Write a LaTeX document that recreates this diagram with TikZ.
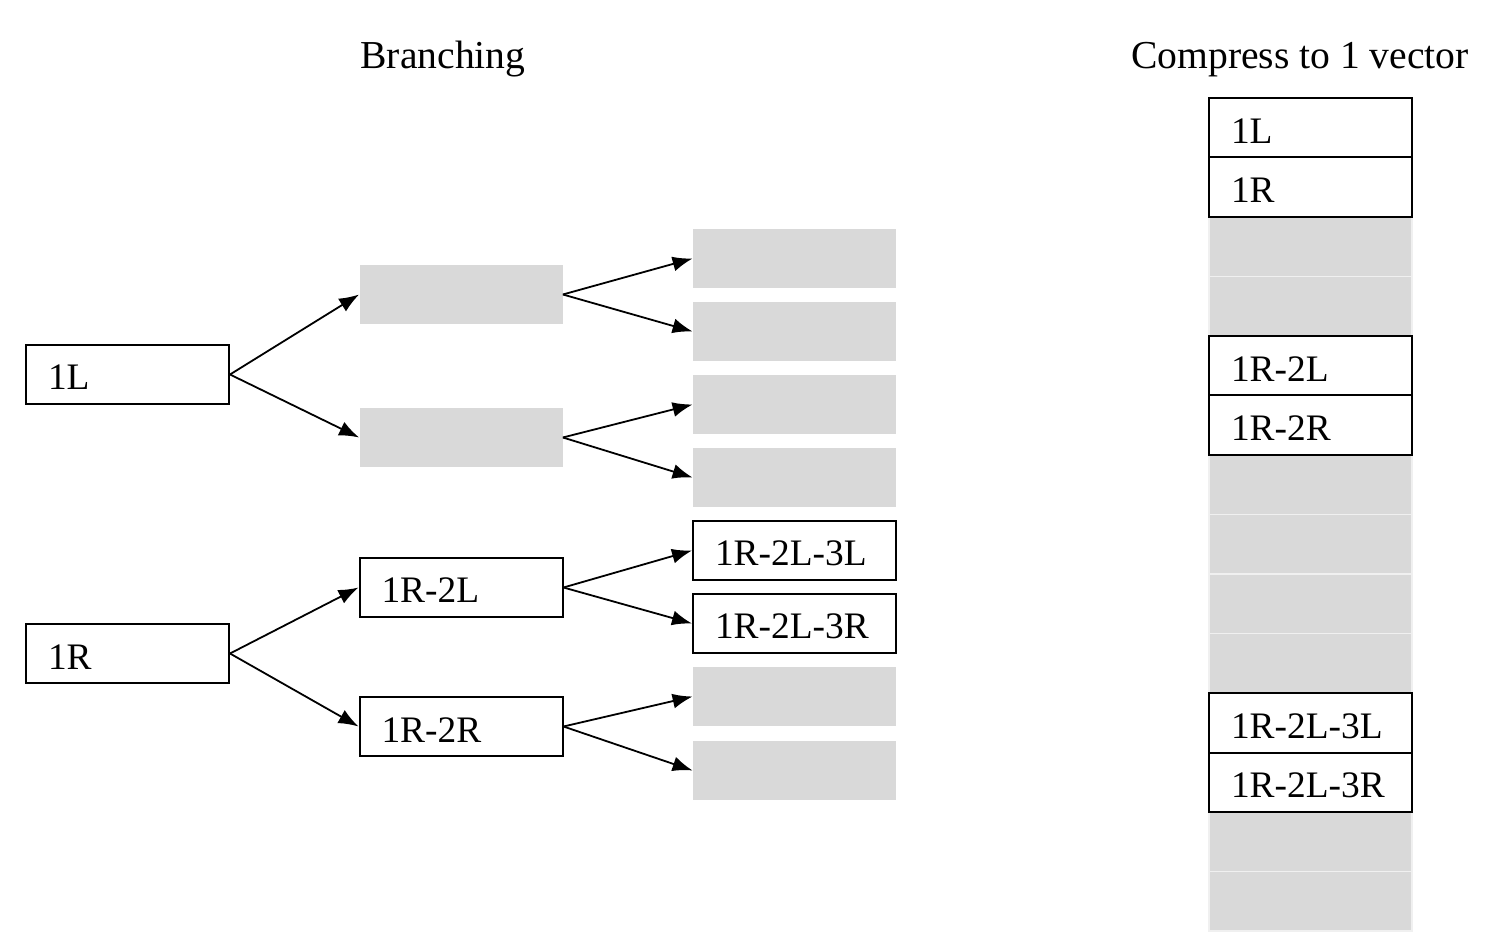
\documentclass[tikz,border=0pt]{standalone}
\usepackage{fontspec}
\setmainfont{Liberation Serif}
\usetikzlibrary{arrows.meta}
\definecolor{cellgray}{RGB}{217,217,217}
\tikzset{
  cell/.style={rectangle, minimum height=29.75pt, text width=79.5pt, inner xsep=11pt, inner ysep=0pt,
    align=left, text height=15.5pt, text depth=0pt, font=\fontsize{18.7}{21}\selectfont},
  full/.style={cell, draw=black, line width=1pt, fill=white},
  empty/.style={cell, fill=cellgray},
  slot/.style={cell, fill=cellgray, draw=white!60!cellgray, line width=0.6pt},
  branch/.style={-{Latex[length=10pt,width=7.5pt]}, line width=0.9pt},
  title/.style={anchor=base, font=\fontsize{19.8}{22}\selectfont}
}
\begin{document}
\begin{tikzpicture}[x=0.5pt, y=-0.5pt]
    \useasboundingbox (0,0) rectangle (1498,945);
    % titles
    \node[title] (tbranch) at (443,69) {Branching};
    \node[title] (tcomp) at (1300,69) {Compress to 1 vector};
    % level 1
    \node[full] (l1) at (127.5,374.5) {1L};
    \node[full] (r1) at (127.5,653.5) {1R};
    % level 2
    \node[empty] (l1a) at (461,294.5) {};
    \node[empty] (l1b) at (461,437.5) {};
    \node[full] (r2l) at (461,587.5) {1R-2L};
    \node[full] (r2r) at (461,726.5) {1R-2R};
    % level 3
    \node[empty] (l1aa) at (794.5,258.5) {};
    \node[empty] (l1ab) at (794.5,331.5) {};
    \node[empty] (l1ba) at (794.5,404.5) {};
    \node[empty] (l1bb) at (794.5,477.5) {};
    \node[full] (r2l3l) at (794.5,550.5) {1R-2L-3L};
    \node[full] (r2l3r) at (794.5,623.5) {1R-2L-3R};
    \node[empty] (r2ra) at (794.5,696.5) {};
    \node[empty] (r2rb) at (794.5,770.5) {};
    % branches
    \draw[branch] (l1.east) -- (l1a.west);
    \draw[branch] (l1.east) -- (l1b.west);
    \draw[branch] (r1.east) -- (r2l.west);
    \draw[branch] (r1.east) -- (r2r.west);
    \draw[branch] (l1a.east) -- (l1aa.west);
    \draw[branch] (l1a.east) -- (l1ab.west);
    \draw[branch] (l1b.east) -- (l1ba.west);
    \draw[branch] (l1b.east) -- (l1bb.west);
    \draw[branch] (r2l.east) -- (r2l3l.west);
    \draw[branch] (r2l.east) -- (r2l3r.west);
    \draw[branch] (r2r.east) -- (r2ra.west);
    \draw[branch] (r2r.east) -- (r2rb.west);
    % compressed vector
    \node[slot] (v3) at (1310.5,246.75) {};
    \node[slot] (v4) at (1310.5,306.25) {};
    \node[slot] (v7) at (1310.5,484.75) {};
    \node[slot] (v8) at (1310.5,544.25) {};
    \node[slot] (v9) at (1310.5,603.75) {};
    \node[slot] (v10) at (1310.5,663.25) {};
    \node[slot] (v13) at (1310.5,841.75) {};
    \node[slot] (v14) at (1310.5,901.25) {};
    \node[full] (v1) at (1310.5,127.75) {1L};
    \node[full] (v2) at (1310.5,187.25) {1R};
    \node[full] (v5) at (1310.5,365.75) {1R-2L};
    \node[full] (v6) at (1310.5,425.25) {1R-2R};
    \node[full] (v11) at (1310.5,722.75) {1R-2L-3L};
    \node[full] (v12) at (1310.5,782.25) {1R-2L-3R};
\end{tikzpicture}
\end{document}
